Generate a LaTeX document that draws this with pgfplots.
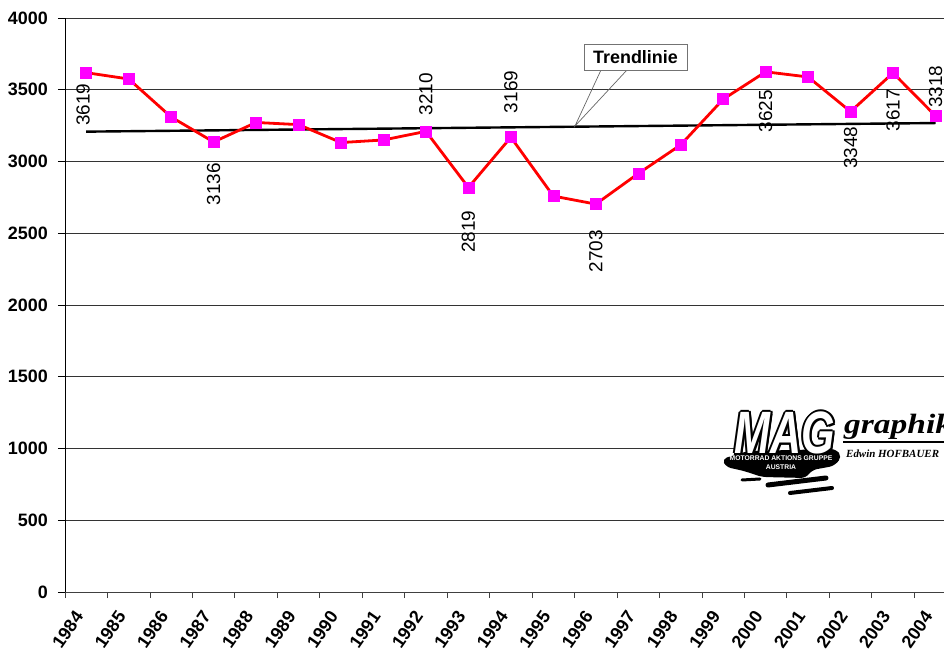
\documentclass[border=0pt]{standalone}
\usepackage{fontspec}
\setmainfont{Liberation Sans}
\newfontfamily\logoserif{Liberation Serif}
\usepackage{pgfplots}
\pgfplotsset{compat=1.18}
\definecolor{markpink}{HTML}{FF00FF}
\definecolor{linered}{HTML}{FF0000}

% yearly values, 1984 = 0
\pgfplotstableread{
x v
0 3619
1 3575
2 3310
3 3136
4 3272
5 3257
6 3132
7 3150
8 3210
9 2819
10 3169
11 2759
12 2703
13 2916
14 3116
15 3434
16 3625
17 3589
18 3348
19 3617
20 3318
}\yeardata

\newcommand{\lblfont}{\fontsize{19}{19}\selectfont}

\begin{document}
\begin{tikzpicture}
\useasboundingbox (-65bp,-61bp) rectangle (879bp,592bp);
\clip (-65bp,-61bp) rectangle (879bp,592bp);
\begin{pgfinterruptboundingbox}
\begin{axis}[
    scale only axis,
    width=879bp, height=574bp,
    xmin=-0.5, xmax=20.2,
    ymin=0, ymax=4000,
    axis x line*=bottom, axis y line*=left,
    axis line style={-},
    x axis line style={black!75, line width=0.8bp},
    y axis line style={black, line width=0.8bp},
    ytick={0,500,...,4000},
    xtick={0,...,20},
    xticklabels={1984,1985,1986,1987,1988,1989,1990,1991,1992,1993,1994,1995,1996,1997,1998,1999,2000,2001,2002,2003,2004},
    minor xtick={-0.5,0.5,...,19.5},
    major x tick style={draw=none},
    minor x tick style={black!75, line width=0.8bp},
    major y tick style={black, line width=0.8bp},
    tick align=outside,
    major tick length=7bp,
    minor tick length=6bp,
    ymajorgrids,
    grid style={black!80, line width=0.6bp},
    /pgf/number format/1000 sep={},
    /pgf/number format/assume math mode=true,
    yticklabel style={font=\bfseries\fontsize{18}{18}\selectfont, inner sep=0pt, anchor=east, xshift=-10bp},
    xticklabel style={font=\bfseries\fontsize{18}{18}\selectfont, inner sep=0pt, xshift=-7bp, yshift=-14bp, rotate=55, anchor=east},
]
% trend line
\addplot[black, line width=2.4bp] coordinates {(0,3208) (20,3268)};
% yearly series
\addplot[linered, line width=2.8bp, mark=square*, mark size=5.5bp,
    mark options={draw=markpink, fill=markpink, line width=0.5bp}] table[x=x, y=v] {\yeardata};

% data labels
\begin{scope}[every node/.style={font=\lblfont, inner sep=0pt, rotate=90}]
\node[anchor=east] at ([xshift=-3bp, yshift=-11bp]axis cs:0,3619) {3619};
\node[anchor=east] at ([yshift=-21bp]axis cs:3,3136) {3136};
\node[anchor=west] at ([yshift=16bp]axis cs:8,3210) {3210};
\node[anchor=east] at ([yshift=-23bp]axis cs:9,2819) {2819};
\node[anchor=west] at ([yshift=24bp]axis cs:10,3169) {3169};
\node[anchor=east] at ([yshift=-26bp]axis cs:12,2703) {2703};
\node[anchor=east] at ([yshift=-18bp]axis cs:16,3625) {3625};
\node[anchor=east] at ([yshift=-15bp]axis cs:18,3348) {3348};
\node[anchor=east] at ([yshift=-16bp]axis cs:19,3617) {3617};
\node[anchor=west] at ([yshift=8bp]axis cs:20,3318) {3318};
\end{scope}
\end{axis}

% annotations in pixel coordinates of the picture
\begin{scope}[shift={(-65bp,592bp)}, x=1bp, y=-1bp]
  % callout for the trend line
  \draw[black!60, line width=0.7bp] (601,70) -- (575,126) -- (627,70);
  \draw[black!55, line width=0.8bp, fill=white] (584,44) rectangle (687,70);
  \node[font=\bfseries\fontsize{18}{18}\selectfont, inner sep=0pt] at (635.5,57) {Trendlinie};

  % logo
  \fill[white] (740,404) rectangle (944,494);
  \fill[black, rounded corners=5bp] (722,459) -- (748,451) -- (836,449) -- (842,457)
     -- (834,466) -- (812,470) -- (806,478) -- (762,477) -- (744,471) -- (726,467) -- cycle;
  \draw[black, line width=5bp, line cap=round] (768,485) -- (826,478);
  \draw[black, line width=4bp, line cap=round] (790,493) -- (832,488);
  \draw[black, line width=3bp, line cap=round] (742,480) -- (760,479);
  \foreach \dx/\dy in {-2/0,2/0,0/-2,0/2,-1.5/-1.5,1.5/1.5,-1.5/1.5,1.5/-1.5} {
    \node[font=\bfseries\itshape\fontsize{60}{60}\selectfont, xscale=0.72, inner sep=0pt, anchor=base, text=black]
      at (785+\dx,454+\dy) {MAG};
  }
  \node[font=\bfseries\itshape\fontsize{60}{60}\selectfont, xscale=0.72, inner sep=0pt, anchor=base, text=white]
    at (785,454) {MAG};
  \node[font=\bfseries\fontsize{6.8}{6.8}\selectfont, text=white, inner sep=0pt] at (781,458) {MOTORRAD AKTIONS GRUPPE};
  \node[font=\bfseries\fontsize{6.8}{6.8}\selectfont, text=white, inner sep=0pt] at (781,467) {AUSTRIA};
  \node[font=\logoserif\bfseries\itshape\fontsize{28}{28}\selectfont, xscale=1.2, inner sep=0pt, anchor=base west]
    at (844,434) {graphik};
  \draw[black, line width=1.6bp] (843,442) -- (944,442);
  \node[font=\logoserif\bfseries\itshape\fontsize{11}{11}\selectfont, inner sep=0pt, anchor=base west]
    at (846,458) {Edwin HOFBAUER};
\end{scope}
\end{pgfinterruptboundingbox}
\end{tikzpicture}
\end{document}
